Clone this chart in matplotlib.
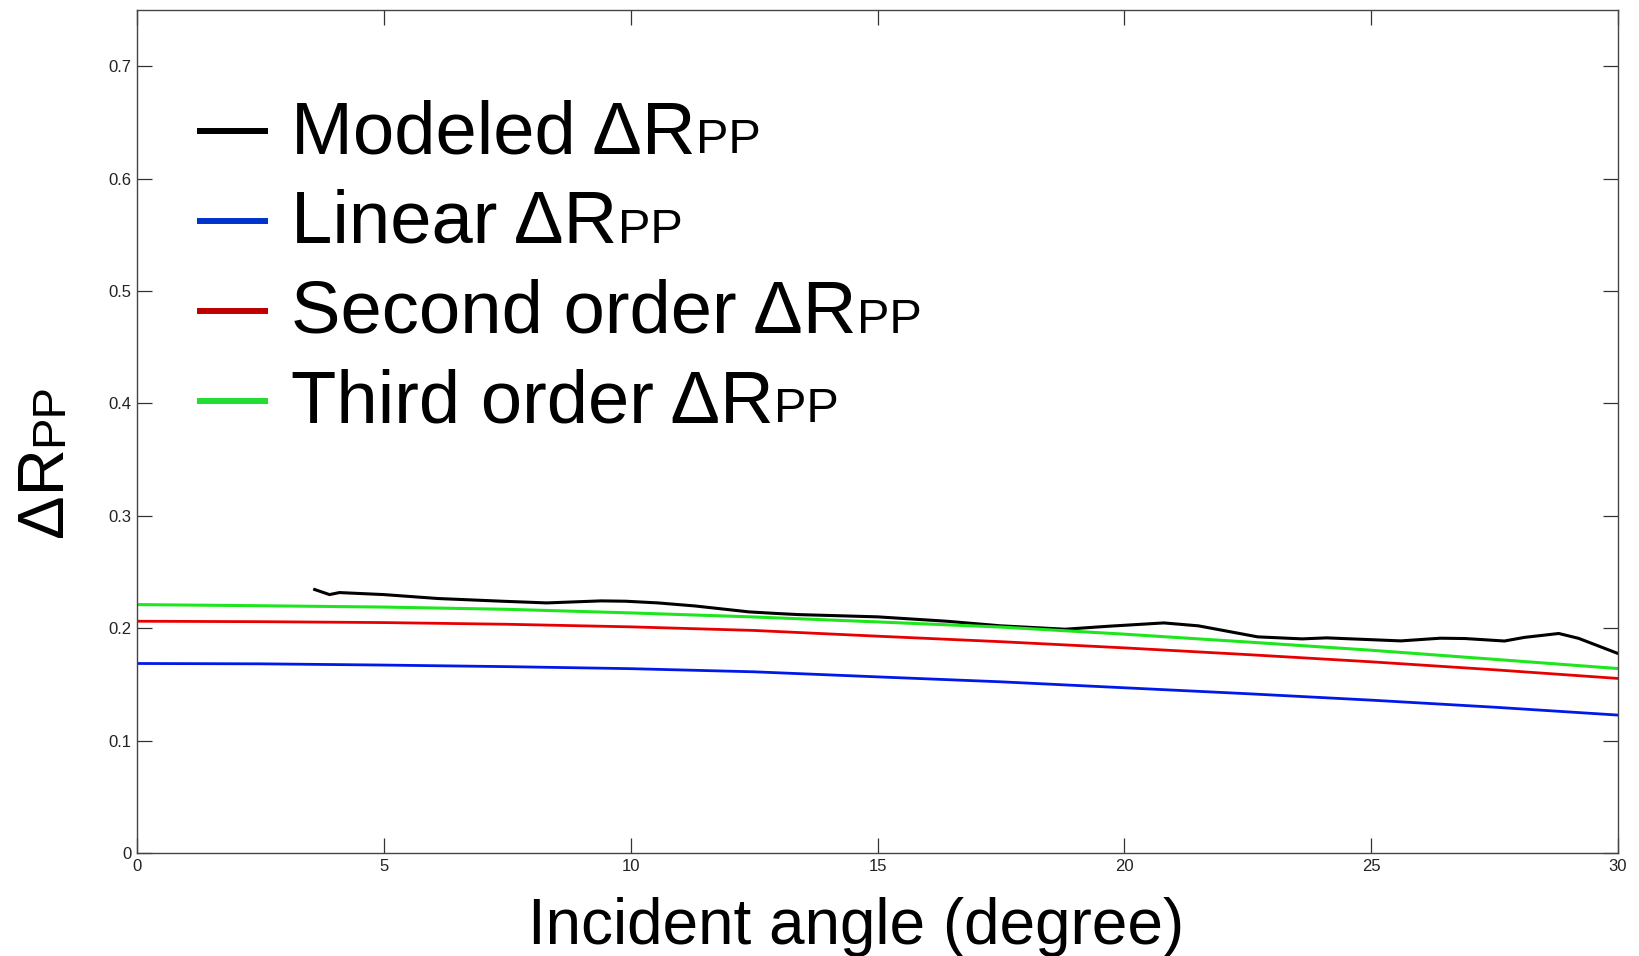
import matplotlib
matplotlib.use("Agg")
import matplotlib.pyplot as plt
from matplotlib.offsetbox import AnchoredOffsetbox, HPacker, VPacker, TextArea, DrawingArea
from matplotlib.lines import Line2D

plt.rcParams['font.family'] = ['Liberation Sans', 'DejaVu Sans']

# ---------------- data ----------------
angle_grid = [0, 2.5, 5, 7.5, 10, 12.5, 15, 17.5, 20, 22.5, 25, 27.5, 30]
linear = [0.1686, 0.1683, 0.1672, 0.1658, 0.1640, 0.1612, 0.1567, 0.1523,
          0.1470, 0.1417, 0.1360, 0.1297, 0.1227]
second = [0.2062, 0.2058, 0.2050, 0.2035, 0.2012, 0.1980, 0.1929, 0.1880,
          0.1825, 0.1765, 0.1701, 0.1630, 0.1553]
third = [0.2210, 0.2200, 0.2188, 0.2168, 0.2136, 0.2100, 0.2056, 0.2010,
         0.1947, 0.1877, 0.1804, 0.1723, 0.1641]

modeled_angle = [3.6, 3.9, 4.1, 5.0, 6.1, 7.4, 8.3, 9.4, 9.9, 10.55, 11.3, 12.4,
                 13.0, 13.4, 15.0, 16.4, 17.5, 18.8, 19.7, 20.8, 21.5, 22.7,
                 23.6, 24.1, 25.6, 26.4, 26.9, 27.7, 28.1, 28.8, 29.2, 30.0]
modeled = [0.2344, 0.2299, 0.2317, 0.2299, 0.2264, 0.2240, 0.2225, 0.2243,
           0.2240, 0.2225, 0.2198, 0.2145, 0.2130, 0.2121, 0.2101, 0.2062,
           0.2021, 0.1991, 0.2018, 0.2047, 0.2021, 0.1923, 0.1905, 0.1914,
           0.1887, 0.1911, 0.1908, 0.1886, 0.1918, 0.1953, 0.1910, 0.1775]

legend_main = ["Modeled \u0394R", "Linear \u0394R", "Second order \u0394R", "Third order \u0394R"]
legend_sub = "PP"
x_ticks = [0, 5, 10, 15, 20, 25, 30]
y_ticks = [0, 0.1, 0.2, 0.3, 0.4, 0.5, 0.6, 0.7]
y_ticklabels = ["0", "0.1", "0.2", "0.3", "0.4", "0.5", "0.6", "0.7"]

colors = ["#000000", "#0018e8", "#e80000", "#1ee61e"]
legend_colors = ["#000000", "#0033cc", "#c00000", "#22dd33"]

# ---------------- figure ----------------
W, H = 1639, 956
fig = plt.figure(figsize=(W / 100, H / 100), dpi=100)
ax = fig.add_axes([137 / W, 1 - 853 / H, (1618 - 137) / W, (853 - 10) / H])

ax.plot(modeled_angle, modeled, color=colors[0], lw=2.2)
ax.plot(angle_grid, linear, color=colors[1], lw=2.0)
ax.plot(angle_grid, second, color=colors[2], lw=2.0)
ax.plot(angle_grid, third, color=colors[3], lw=2.2)

ax.set_xlim(0, 30)
ax.set_ylim(0, 0.75)
ax.set_xticks(x_ticks)
ax.set_xticklabels([str(v) for v in x_ticks])
ax.set_yticks(y_ticks)
ax.set_yticklabels(y_ticklabels)
ax.tick_params(direction='in', length=11, width=0.9, color='#333333',
               labelsize=12, labelcolor='#222222', top=True, right=True, pad=4)
for s in ax.spines.values():
    s.set_color('#444444')
    s.set_linewidth(1.0)

# ---------------- legend (mixed-size labels) ----------------
MAIN_FS = 53.5
SUB_FS = 35
rows = []
for lab, col in zip(legend_main, legend_colors):
    da = DrawingArea(51, 30, 0, 0)
    da.add_artist(Line2D([0, 51], [15.5, 15.5], color=col, lw=4.3,
                         solid_capstyle='butt'))
    t1 = TextArea(lab, textprops=dict(fontsize=MAIN_FS, color='black'))
    t2 = TextArea(legend_sub, textprops=dict(fontsize=SUB_FS, color='black'))
    txt = HPacker(children=[t1, t2], sep=0, pad=0, align='baseline')
    rows.append(HPacker(children=[da, txt], sep=17.0, pad=0, align='baseline'))
vp = VPacker(children=rows, sep=15.0, pad=0, align='left')
anch = AnchoredOffsetbox(loc='upper left', child=vp, pad=0, borderpad=0,
                         frameon=False, bbox_to_anchor=(197 / W, 1 - 99 / H),
                         bbox_transform=fig.transFigure)
ax.add_artist(anch)

# ---------------- axis labels ----------------
fig.text(856 / W, 1 - 944 / H, "Incident angle (degree)", fontsize=46,
         ha='center', va='baseline')
fig.text(62 / W, 1 - 446 / H, "\u0394R", fontsize=47, rotation=90,
         rotation_mode='anchor', ha='right', va='baseline')
fig.text(62 / W, 1 - 446 / H, "PP", fontsize=34, rotation=90,
         rotation_mode='anchor', ha='left', va='baseline')

fig.savefig("out.png", dpi=100)
